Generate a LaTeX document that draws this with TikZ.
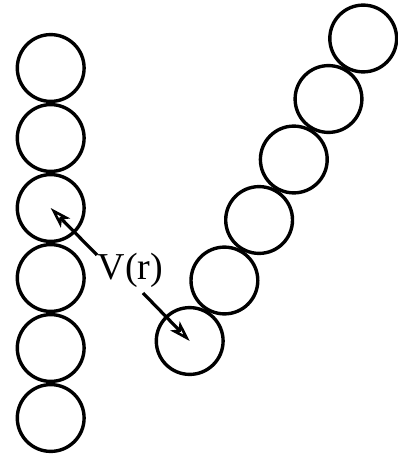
\documentclass[tikz,border=0pt]{standalone}
\usepackage{fontspec}
\setmainfont{Liberation Serif}
\usetikzlibrary{arrows.meta}
\begin{document}
\begin{tikzpicture}[x=1pt,y=-1pt,
  bead/.style={circle,draw=black,line width=3.4pt,minimum size=66.8pt,inner sep=0pt},
  ptr/.style={line width=3.2pt,-{Stealth[open,length=21pt,width=13pt,inset=5pt,line width=2.6pt]}}]
\useasboundingbox (0,0) rectangle (398,457);
\foreach \i in {0,...,5}{
  \node[bead] (L\i) at (50.7,{68+70*\i}) {};
}
\foreach \i in {0,...,5}{
  \node[bead] (R\i) at ({189.7+34.7*\i},{341-60.5*\i}) {};
}
\node[font=\fontsize{38}{40}\selectfont,inner sep=0pt] (lab) at (130.5,270) {V(r)};
\coordinate (s1) at (97,255);
\coordinate (s2) at (143,293);
\draw[ptr] (s1) -- (L2.center);
\draw[ptr] (s2) -- (R0.center);
\end{tikzpicture}
\end{document}
